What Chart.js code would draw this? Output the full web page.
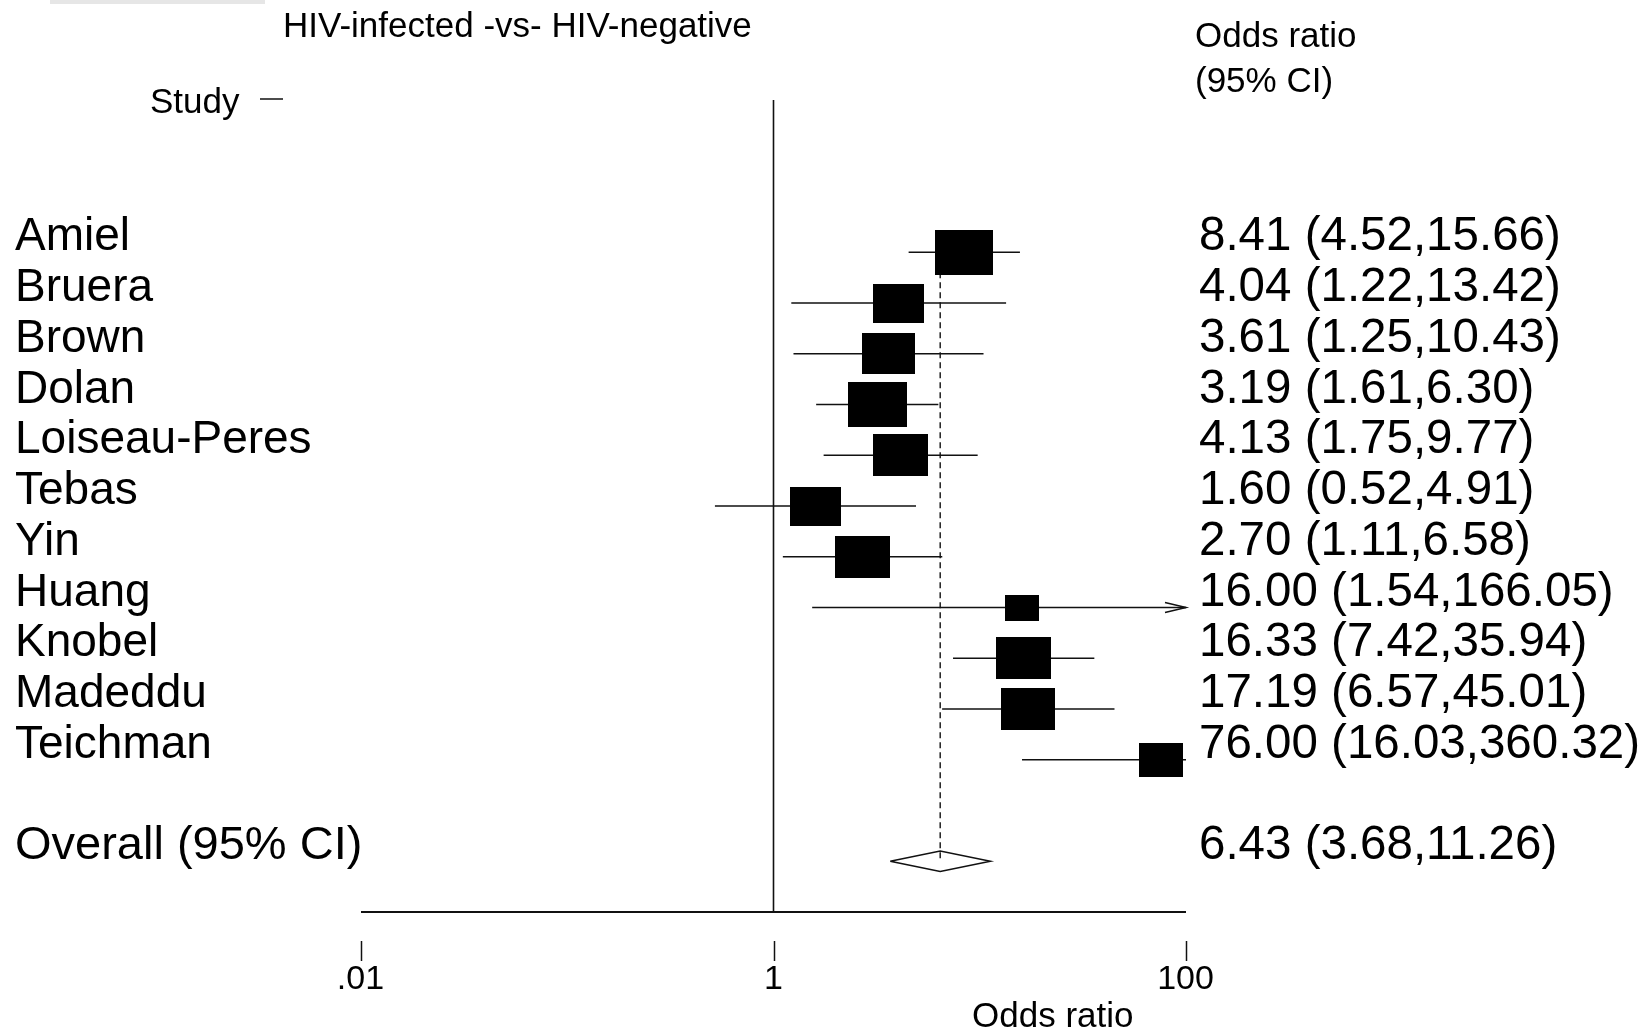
<!DOCTYPE html>
<html>
<head>
<meta charset="utf-8">
<title>HIV-infected -vs- HIV-negative</title>
<script src="https://cdn.jsdelivr.net/npm/chart.js@4.4.1/dist/chart.umd.min.js"></script>
<style>
  html, body { margin: 0; padding: 0; background: #fff; }
  canvas { display: block; }
</style>
</head>
<body>
<canvas id="forestChart" width="1645" height="1028"></canvas>
<script>
// Study data
const studies = ['Amiel', 'Bruera', 'Brown', 'Dolan', 'Loiseau-Peres', 'Tebas', 'Yin', 'Huang', 'Knobel', 'Madeddu', 'Teichman'];
const oddsRatios = [8.41, 4.04, 3.61, 3.19, 4.13, 1.60, 2.70, 16.00, 16.33, 17.19, 76.00];
const ciLower = [4.52, 1.22, 1.25, 1.61, 1.75, 0.52, 1.11, 1.54, 7.42, 6.57, 16.03];
const ciUpper = [15.66, 13.42, 10.43, 6.30, 9.77, 4.91, 6.58, 166.05, 35.94, 45.01, 360.32];
// study weights (%)
const weights = [11.2, 8.7, 9.6, 11.6, 10.2, 8.7, 10.2, 3.8, 10.1, 9.7, 6.4];

const overallLabel = 'Overall (95% CI)';
const overallOR = 6.43;
const overallLower = 3.68;
const overallUpper = 11.26;

const xTickValues = [0.01, 1, 100];
const xTickLabels = ['.01', '1', '100'];

const titleText = 'HIV-infected -vs- HIV-negative';
const xAxisTitle = 'Odds ratio';

// rows: one per study, a blank row, then the overall estimate
const overallRow = studies.length + 1;
const yMin = -3;
const yMax = overallRow + 1;

const FONT = '"Liberation Sans", Arial, Helvetica, sans-serif';
const INK = '#111';

// box size grows with sqrt(weight); boxes are a bit wider than tall
const boxScale = 17.25;
const boxAspect = 0.77;

function makeBox(weight) {
    const w = Math.round(boxScale * Math.sqrt(weight));
    const h = Math.round(w * boxAspect);
    const c = document.createElement('canvas');
    c.width = w;
    c.height = h;
    const g = c.getContext('2d');
    g.fillStyle = '#000';
    g.fillRect(0, 0, w, h);
    return c;
}
const boxImages = weights.map(makeBox);

function fmt(v) {
    return v.toFixed(2);
}

const ciDatasets = studies.map((name, i) => ({
    label: name + ' CI',
    data: [{ x: ciLower[i], y: i }, { x: ciUpper[i], y: i }],
    showLine: true,
    borderColor: INK,
    borderWidth: 1.6,
    pointRadius: 0
}));

// Draws text columns, the bottom axis and arrows for clipped intervals
const forestDecor = {
    id: 'forestDecor',
    afterDatasetsDraw(chart) {
        const ctx = chart.ctx;
        const area = chart.chartArea;
        const xs = chart.scales.x;
        const ys = chart.scales.y;

        ctx.save();

        // faint bar left over at the top edge
        ctx.fillStyle = '#e6e6e6';
        ctx.fillRect(50, 0, 215, 4);

        ctx.fillStyle = '#000';
        ctx.textBaseline = 'alphabetic';
        ctx.textAlign = 'left';

        ctx.font = '35px ' + FONT;
        ctx.fillText(titleText, 283, 37);
        ctx.fillText('Study', 150, 113);
        ctx.fillText('Odds ratio', area.right + 9, 47);
        ctx.fillText('(95% CI)', area.right + 9, 92);

        ctx.strokeStyle = INK;
        ctx.lineWidth = 1.5;
        ctx.beginPath();
        ctx.moveTo(260, 99);
        ctx.lineTo(283, 99);
        ctx.stroke();

        // study names and estimates
        studies.forEach((name, i) => {
            const y = ys.getPixelForValue(i) - 2;
            ctx.font = '46px ' + FONT;
            ctx.fillText(name, 15, y);
            ctx.font = '47.5px ' + FONT;
            ctx.fillText(fmt(oddsRatios[i]) + ' (' + fmt(ciLower[i]) + ',' + fmt(ciUpper[i]) + ')', area.right + 13, y);
        });
        const yo = ys.getPixelForValue(overallRow) - 2;
        ctx.font = '47px ' + FONT;
        ctx.fillText(overallLabel, 15, yo);
        ctx.font = '47.5px ' + FONT;
        ctx.fillText(fmt(overallOR) + ' (' + fmt(overallLower) + ',' + fmt(overallUpper) + ')', area.right + 13, yo);

        // arrows where the interval runs off the right of the axis
        ctx.lineWidth = 1.5;
        studies.forEach((name, i) => {
            if (ciUpper[i] <= xs.max) return;
            const end = xs.getPixelForValue(xs.max);
            const boxRight = xs.getPixelForValue(oddsRatios[i]) + boxImages[i].width / 2;
            if (boxRight > end - 12) return;
            const y = ys.getPixelForValue(i);
            ctx.beginPath();
            ctx.moveTo(end - 21, y - 5);
            ctx.lineTo(end, y);
            ctx.lineTo(end - 21, y + 5);
            ctx.stroke();
        });

        // bottom axis: line, detached ticks, labels
        const left = xs.getPixelForValue(xs.min);
        const right = xs.getPixelForValue(xs.max);
        ctx.lineWidth = 2;
        ctx.beginPath();
        ctx.moveTo(left, area.bottom);
        ctx.lineTo(right, area.bottom);
        ctx.stroke();

        ctx.lineWidth = 1.5;
        ctx.font = '34px ' + FONT;
        ctx.textAlign = 'center';
        xTickValues.forEach((v, i) => {
            const px = Math.round(xs.getPixelForValue(v)) + 0.5;
            ctx.beginPath();
            ctx.moveTo(px, area.bottom + 29);
            ctx.lineTo(px, area.bottom + 49);
            ctx.stroke();
            ctx.fillText(xTickLabels[i], px - 1, area.bottom + 77);
        });

        ctx.font = '35px ' + FONT;
        ctx.textAlign = 'left';
        ctx.fillText(xAxisTitle, 972, 1027);

        ctx.restore();
    }
};

const chart = new Chart(document.getElementById('forestChart'), {
    type: 'scatter',
    data: {
        datasets: [
            {
                label: 'Study estimates',
                data: studies.map((name, i) => ({ x: oddsRatios[i], y: i })),
                pointStyle: (c) => boxImages[c.dataIndex],
                pointRadius: 1,
                showLine: false
            },
            ...ciDatasets,
            {
                label: 'Overall',
                data: [
                    { x: overallLower, y: overallRow },
                    { x: overallOR, y: overallRow - 0.2 },
                    { x: overallUpper, y: overallRow },
                    { x: overallOR, y: overallRow + 0.2 },
                    { x: overallLower, y: overallRow }
                ],
                showLine: true,
                fill: false,
                borderColor: INK,
                borderWidth: 1.5,
                pointRadius: 0,
                tension: 0
            },
            {
                label: 'Overall line',
                data: [{ x: overallOR, y: 0 }, { x: overallOR, y: overallRow }],
                showLine: true,
                borderColor: INK,
                borderWidth: 1.4,
                borderDash: [6, 4],
                pointRadius: 0
            },
            {
                label: 'No effect',
                data: [{ x: 1, y: yMin }, { x: 1, y: yMax }],
                showLine: true,
                borderColor: INK,
                borderWidth: 1.6,
                pointRadius: 0
            }
        ]
    },
    options: {
        responsive: false,
        animation: false,
        events: [],
        layout: {
            padding: { left: 361, right: 459, top: 100, bottom: 116 }
        },
        scales: {
            x: {
                type: 'logarithmic',
                min: xTickValues[0],
                max: xTickValues[xTickValues.length - 1],
                display: false
            },
            y: {
                type: 'linear',
                min: yMin,
                max: yMax,
                reverse: true,
                display: false
            }
        },
        plugins: {
            legend: { display: false },
            tooltip: { enabled: false },
            title: { display: false }
        }
    },
    plugins: [forestDecor]
});
</script>
</body>
</html>
